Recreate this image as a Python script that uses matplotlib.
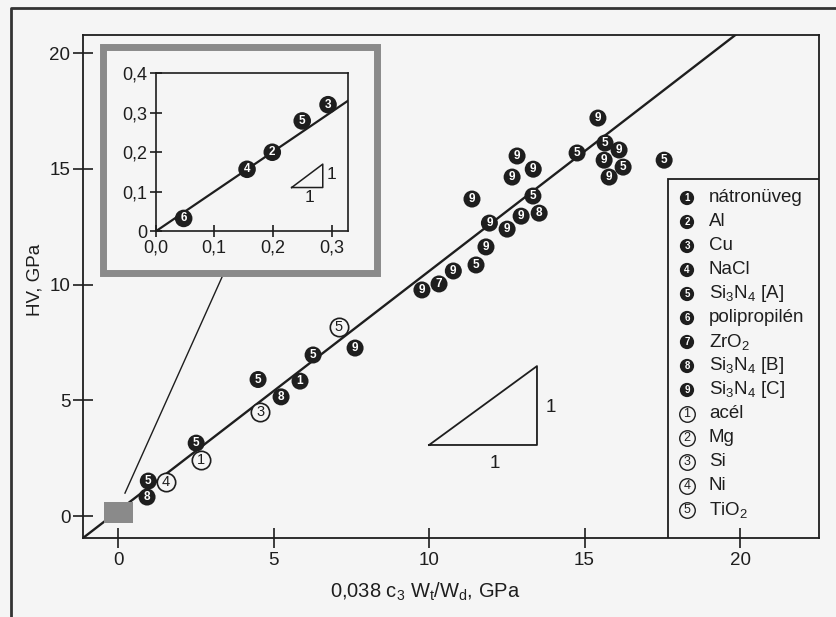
import numpy as np
import matplotlib
matplotlib.use("Agg")
import matplotlib.pyplot as plt
from matplotlib.patches import Rectangle
from matplotlib.lines import Line2D

plt.rcParams['font.family'] = ['Liberation Sans', 'DejaVu Sans']
plt.rcParams['mathtext.fontset'] = 'custom'
plt.rcParams['mathtext.rm'] = 'Liberation Sans'

ink = '#1e1e1e'
bg = '#f5f5f5'

# main panel data
filled_x = [0.93, 0.97, 2.51, 5.24, 4.50, 5.85, 6.27, 7.62,
            9.77, 10.32, 10.78, 11.51, 11.83, 11.94, 12.51, 12.96, 13.54, 13.34,
            11.38, 12.67, 13.35, 12.83,
            14.76, 15.63, 15.66, 16.11, 16.24, 15.79, 15.43, 17.56]
filled_y = [0.82, 1.51, 3.15, 5.15, 5.90, 5.83, 6.96, 7.26,
            9.77, 10.03, 10.59, 10.85, 11.63, 12.66, 12.40, 12.96, 13.09, 13.83,
            13.70, 14.65, 14.99, 15.56,
            15.69, 15.38, 16.12, 15.82, 15.08, 14.65, 17.20, 15.38]
filled_lbl = [8, 5, 5, 8, 5, 1, 5, 9,
              9, 7, 9, 5, 9, 9, 9, 9, 8, 5,
              9, 9, 9, 9,
              5, 9, 5, 9, 5, 9, 9, 5]

open_x = [1.54, 2.67, 4.57, 7.10]
open_y = [1.47, 2.42, 4.49, 8.17]
open_lbl = [4, 1, 3, 5]

fit_x = [-1.13, 19.85]
fit_y = [-0.95, 20.79]
steep_x = [0.22, 4.0]
steep_y = [0.99, 12.3]
tri_x = [10.0, 13.47, 13.47, 10.0]
tri_y = [3.07, 3.07, 6.48, 3.07]

# inset data
inset_x = [0.048, 0.156, 0.199, 0.250, 0.294]
inset_y = [0.033, 0.157, 0.200, 0.279, 0.320]
inset_lbl = [6, 4, 2, 5, 3]
inset_fit_x = [0.0, 0.328]
inset_fit_y = [0.0, 0.330]
inset_tri_x = [0.232, 0.285, 0.285, 0.232]
inset_tri_y = [0.111, 0.111, 0.170, 0.111]

legend_num = [1, 2, 3, 4, 5, 6, 7, 8, 9, 1, 2, 3, 4, 5]
legend_open = [False] * 9 + [True] * 5
legend_txt = ['nátronüveg', 'Al', 'Cu', 'NaCl',
              r'Si$\mathregular{_3}$N$\mathregular{_4}$ [A]', 'polipropilén',
              r'ZrO$\mathregular{_2}$',
              r'Si$\mathregular{_3}$N$\mathregular{_4}$ [B]',
              r'Si$\mathregular{_3}$N$\mathregular{_4}$ [C]',
              'acél', 'Mg', 'Si', 'Ni', r'TiO$\mathregular{_2}$']

W, H = 837, 617
def fx(px):
    return px / W
def fy(py):
    return 1 - py / H

fig = plt.figure(figsize=(8.37, 6.17), dpi=100, facecolor=bg)

ax = fig.add_axes([fx(83), fy(538), (819 - 83) / W, (538 - 35) / H])
ax.set_facecolor(bg)
ax.set_xlim(-1.13, 22.54)
ax.set_ylim(-0.95, 20.79)
ax.set_xticks([0, 5, 10, 15, 20])
ax.set_yticks([0, 5, 10, 15, 20])
ax.tick_params(direction='inout', length=14, width=1.2, labelsize=13.5, colors=ink)
ax.tick_params(axis='x', pad=3)
ax.tick_params(axis='y', pad=2)
for s in ax.spines.values():
    s.set_linewidth(1.3)
    s.set_color(ink)
ax.xaxis.set_zorder(8)

ax.plot(fit_x, fit_y, color=ink, lw=1.7, zorder=2)
ax.plot(steep_x, steep_y, color=ink, lw=1.0, zorder=2)
ax.add_patch(Rectangle((-0.45, -0.3), 0.93, 0.9, facecolor='#8a8a8a', edgecolor='none', zorder=3))
ax.plot(tri_x, tri_y, color=ink, lw=1.3, zorder=2)
ax.text(13.92, 4.71, '1', fontsize=13.5, ha='center', va='center', color=ink)
ax.text(12.12, 2.25, '1', fontsize=13.5, ha='center', va='center', color=ink)

ax.scatter(filled_x, filled_y, s=150, c=ink, edgecolors='none', zorder=4)
for x, y, n in zip(filled_x, filled_y, filled_lbl):
    ax.text(x, y, str(n), color='white', fontsize=8.5, fontweight='bold',
            ha='center', va='center', zorder=5)
ax.scatter(open_x, open_y, s=175, facecolors=bg, edgecolors=ink, linewidths=1.2, zorder=4)
for x, y, n in zip(open_x, open_y, open_lbl):
    ax.text(x, y, str(n), color=ink, fontsize=10.5, ha='center', va='center', zorder=5)

# legend box
ax.add_patch(Rectangle((0.795, 0), 0.205, 0.714, transform=ax.transAxes,
                       facecolor=bg, edgecolor=ink, lw=1.3, zorder=6))
for i, (n, op, t) in enumerate(zip(legend_num, legend_open, legend_txt)):
    ya = (538 - (198 + 24 * i)) / 503
    xa = (687 - 83) / 736
    if op:
        ax.scatter([xa], [ya], s=125, facecolors=bg, edgecolors=ink, linewidths=1.0,
                   transform=ax.transAxes, zorder=7, clip_on=False)
        ax.text(xa, ya, str(n), color=ink, fontsize=9, ha='center', va='center',
                transform=ax.transAxes, zorder=8)
    else:
        ax.scatter([xa], [ya], s=105, c=ink, edgecolors='none',
                   transform=ax.transAxes, zorder=7, clip_on=False)
        ax.text(xa, ya, str(n), color='white', fontsize=7, fontweight='bold',
                ha='center', va='center', transform=ax.transAxes, zorder=8)
    ax.text((709 - 83) / 736, ya, t, fontsize=13.5, ha='left', va='center',
            color=ink, transform=ax.transAxes, zorder=8)

fig.text(fx(35), fy(280), 'HV, GPa', rotation=90, fontsize=13.5, ha='center', va='center', color=ink)
fig.text(fx(425), fy(592), r'0,038 c$\mathregular{_3}$ W$\mathregular{_t}$/W$\mathregular{_d}$, GPa',
         fontsize=14.5, ha='center', va='center', color=ink)

# inset frame
frame = Rectangle((fx(103.5), fy(272.5)), 273 / W, 226 / H, transform=fig.transFigure,
                  facecolor=bg, edgecolor='#8a8a8a', lw=5, zorder=1)
fig.add_artist(frame)

ins = fig.add_axes([fx(155.5), fy(231.5), (348 - 155.5) / W, (231.5 - 73) / H])
ins.set_zorder(2)
ins.set_facecolor('none')
ins.set_xlim(0, 0.328)
ins.set_ylim(0, 0.4)
ins.set_xticks([0, 0.1, 0.2, 0.3])
ins.set_xticklabels(['0,0', '0,1', '0,2', '0,3'])
ins.set_yticks([0, 0.1, 0.2, 0.3, 0.4])
ins.set_yticklabels(['0', '0,1', '0,2', '0,3', '0,4'])
ins.tick_params(direction='inout', length=8, width=1.2, labelsize=13, colors=ink, pad=2)
for s in ins.spines.values():
    s.set_linewidth(1.2)
    s.set_color(ink)
ins.plot(inset_fit_x, inset_fit_y, color=ink, lw=1.6, zorder=2)
ins.plot(inset_tri_x, inset_tri_y, color=ink, lw=1.1, zorder=2)
ins.text(0.300, 0.143, '1', fontsize=12.5, ha='center', va='center', color=ink)
ins.text(0.263, 0.087, '1', fontsize=12.5, ha='center', va='center', color=ink)
ins.scatter(inset_x, inset_y, s=160, c=ink, edgecolors='none', zorder=4)
for x, y, n in zip(inset_x, inset_y, inset_lbl):
    ins.text(x, y, str(n), color='white', fontsize=8.5, fontweight='bold',
             ha='center', va='center', zorder=5)

# outer page frame
fig.add_artist(Line2D([fx(11), fx(11), 1.01], [-0.01, fy(8), fy(8)],
                      transform=fig.transFigure, color='#333333', lw=2))

fig.savefig('out.png', dpi=100, facecolor=bg)
